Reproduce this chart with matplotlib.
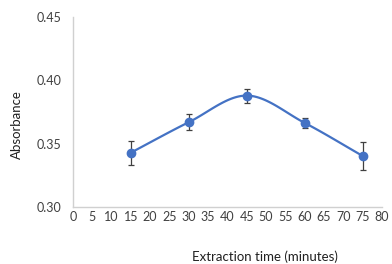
import numpy as np
import matplotlib
matplotlib.use("Agg")
import matplotlib.pyplot as plt

# data
times = [15, 30, 45, 60, 75]
absorbance = [0.343, 0.367, 0.388, 0.3665, 0.3405]
errors = [0.0095, 0.0065, 0.0055, 0.004, 0.011]
x_ticks = list(range(0, 81, 5))
y_ticks = [0.30, 0.35, 0.40, 0.45]

plt.rcParams['font.family'] = ['Lato', 'DejaVu Sans']


def smooth(x, y, n=30):
    # catmull-rom style smoothing like the spreadsheet "smoothed line"
    x = np.asarray(x, float)
    y = np.asarray(y, float)
    px = np.concatenate([[2 * x[0] - x[1]], x, [2 * x[-1] - x[-2]]])
    py = np.concatenate([[2 * y[0] - y[1]], y, [2 * y[-1] - y[-2]]])
    xs, ys = [], []
    for i in range(1, len(px) - 2):
        t = np.linspace(0, 1, n)
        for p, out in ((px, xs), (py, ys)):
            p0, p1, p2, p3 = p[i - 1], p[i], p[i + 1], p[i + 2]
            out.extend(0.5 * ((2 * p1) + (-p0 + p2) * t
                              + (2 * p0 - 5 * p1 + 4 * p2 - p3) * t ** 2
                              + (-p0 + 3 * p1 - 3 * p2 + p3) * t ** 3))
    return xs, ys


fig = plt.figure(figsize=(3.92, 2.64), dpi=100)
ax = fig.add_axes([0.186, 0.215, 0.788, 0.721])

sx, sy = smooth(times, absorbance)
ax.plot(sx, sy, color='#4472C4', lw=1.6, zorder=2)
ax.errorbar(times, absorbance, yerr=errors, fmt='o', color='#4472C4',
            ms=6, ecolor='#404040', elinewidth=0.9, capsize=2, capthick=0.9,
            zorder=3)

ax.set_xlim(0, 80)
ax.set_ylim(0.30, 0.45)
ax.set_xticks(x_ticks)
ax.set_yticks(y_ticks)
ax.set_yticklabels(['%.2f' % v for v in y_ticks])
ax.tick_params(length=0, labelsize=9, colors='#404040')
ax.tick_params(axis='y', pad=8)
ax.tick_params(axis='x', pad=3)

for s in ['top', 'right']:
    ax.spines[s].set_visible(False)
for s in ['left', 'bottom']:
    ax.spines[s].set_color('#d0d0d0')
    ax.spines[s].set_linewidth(1)

fig.text(0.042, 0.53, 'Absorbance', rotation=90, ha='center', va='center',
         fontsize=9.5, color='#202020')
fig.text(0.675, 0.027, 'Extraction time (minutes)', ha='center', va='center',
         fontsize=9.5, color='#202020')

fig.savefig('out.png', dpi=100)
